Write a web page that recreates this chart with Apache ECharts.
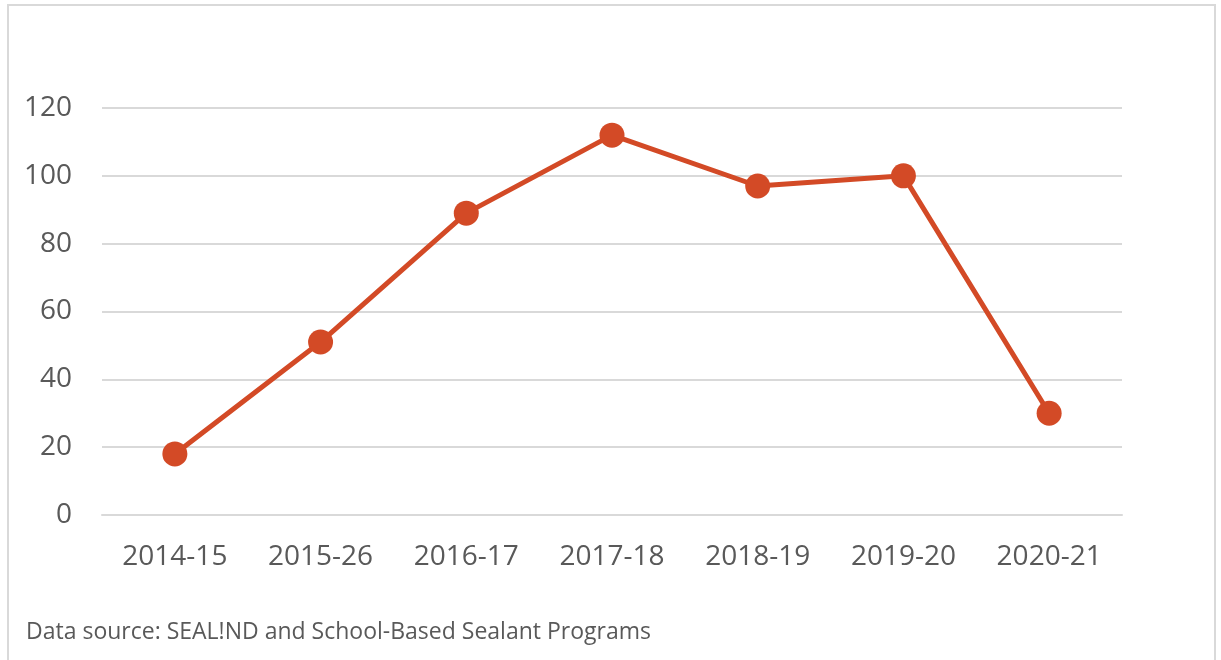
<!DOCTYPE html>
<html lang="en">
<head>
    <meta charset="UTF-8">
    <title>Sealant programs</title>
    <script src="https://cdn.jsdelivr.net/npm/echarts@6/dist/echarts.min.js"></script>
    <style>
        html, body { margin: 0; padding: 0; background: #fff; overflow: hidden; }
        #frame {
            position: absolute; left: 7px; top: 4px; width: 1209px; height: 700px;
            border: 2px solid #d9d9d9; box-sizing: border-box;
        }
        #chart { position: absolute; left: 0; top: 0; width: 1221px; height: 660px; }
    </style>
</head>
<body>
<div id="frame"></div>
<div id="chart"></div>
<script>
    var years = ['2014-15', '2015-26', '2016-17', '2017-18', '2018-19', '2019-20', '2020-21'];
    var values = [18, 51, 89, 112, 97, 100, 30];
    var yTicks = [0, 20, 40, 60, 80, 100, 120];

    var chart = echarts.init(document.getElementById('chart'));
    var option = {
        animation: false,
        grid: { left: 102, right: 99, top: 108, bottom: 145 },
        xAxis: {
            type: 'category',
            data: years,
            boundaryGap: true,
            axisLine: { show: true, lineStyle: { color: '#d9d9d9', width: 2 } },
            axisTick: { show: false },
            axisLabel: {
                color: '#595959', fontSize: 28, margin: 28,
                fontFamily: 'Open Sans'
            }
        },
        yAxis: {
            type: 'value',
            min: yTicks[0],
            max: yTicks[yTicks.length - 1],
            interval: 20,
            axisLine: { show: false },
            axisTick: { show: false },
            splitLine: { lineStyle: { color: '#d9d9d9', width: 2 } },
            axisLabel: {
                color: '#595959', fontSize: 28, margin: 30,
                fontFamily: 'Open Sans'
            }
        },
        series: [{
            type: 'line',
            data: values,
            symbol: 'circle',
            symbolSize: 25,
            itemStyle: { color: '#d34a26' },
            lineStyle: { color: '#d34a26', width: 5 }
        }],
        graphic: [{
            type: 'text',
            left: 26,
            top: 621,
            style: {
                text: 'Data source: SEAL!ND and School-Based Sealant Programs',
                fill: '#595959',
                font: '23px "Open Sans"'
            }
        }]
    };
    chart.setOption(option);
</script>
</body>
</html>
